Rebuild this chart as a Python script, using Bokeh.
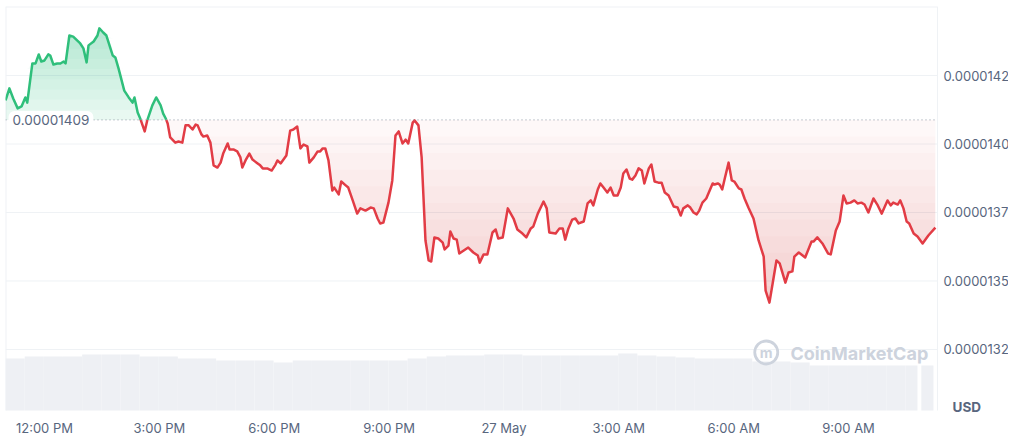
import numpy as np
from bokeh.plotting import figure
from bokeh.models import Range1d, FixedTicker, Label
from bokeh.core.properties import value
from bokeh.embed import file_html
from bokeh.resources import INLINE

# ---- data -------------------------------------------------------------
# time in minutes since 26 May 00:00, price in units of 1e-9 USD
times = [659,665,671,678,684,690,693,701,706,711,
         715,720,726,729,734,740,745,750,753,759,
         765,776,781,786,789,797,803,806,812,817,
         827,831,836,845,852,858,861,866,870,877,
         881,889,895,902,906,910,913,917,925,930,
         936,941,946,952,957,960,966,969,975,980,
         985,991,996,1000,1007,1010,1016,1022,1027,1030,
         1035,1041,1046,1054,1058,1062,1069,1076,1082,1085,
         1090,1099,1105,1110,1116,1121,1126,1132,1135,1142,
         1148,1152,1156,1160,1165,1171,1174,1181,1185,1192,
         1196,1203,1210,1215,1223,1231,1236,1242,1246,1251,
         1259,1265,1270,1275,1281,1286,1290,1297,1300,1306,
         1311,1317,1322,1326,1331,1337,1344,1347,1353,1356,
         1361,1366,1370,1377,1384,1392,1399,1402,1408,1414,
         1422,1427,1431,1438,1446,1455,1461,1469,1475,1482,
         1486,1493,1502,1507,1511,1521,1527,1532,1536,1541,
         1547,1552,1557,1565,1571,1576,1580,1587,1591,1596,
         1602,1607,1612,1618,1623,1627,1632,1637,1641,1646,
         1651,1656,1660,1667,1671,1676,1682,1687,1692,1698,
         1706,1712,1717,1721,1728,1732,1737,1742,1746,1751,
         1757,1761,1767,1770,1775,1778,1782,1786,1792,1797,
         1801,1808,1812,1817,1823,1831,1839,1847,1850,1856,
         1861,1867,1872,1881,1886,1892,1895,1902,1912,1922,
         1925,1931,1939,1948,1952,1960,1966,1972,1977,1983,
         1989,1994,2000,2005,2011,2019,2025,2032,2041,2046,
         2050,2057,2061,2066,2071,2075,2082,2088,2096,2105,2116]

price_e9 = [14161,14205,14168,14132,14139,14172,14153,14296,14296,14329,
            14303,14307,14329,14325,14292,14296,14296,14303,14296,14398,
            14394,14369,14351,14300,14362,14376,14398,14424,14409,14398,
            14325,14318,14278,14197,14172,14153,14172,14117,14095,14048,
            14088,14143,14172,14143,14113,14095,14077,14026,14007,14011,
            14007,14070,14070,14055,14073,14070,14037,14029,14033,14007,
            13924,13916,13934,13967,14004,13982,13982,13975,13953,13916,
            13942,13967,13945,13931,13924,13913,13913,13905,13927,13942,
            13931,13960,14051,14055,14066,13986,14000,13993,13934,13953,
            13975,13975,13986,13986,13942,13832,13843,13818,13865,13851,
            13843,13796,13748,13767,13759,13770,13767,13730,13712,13715,
            13788,13869,14033,14048,14004,14018,14004,14080,14088,14070,
            13953,13650,13577,13573,13661,13657,13642,13617,13631,13683,
            13657,13653,13602,13613,13624,13606,13595,13569,13599,13599,
            13679,13690,13657,13661,13767,13730,13690,13675,13661,13694,
            13701,13748,13792,13767,13679,13675,13694,13694,13653,13694,
            13726,13730,13712,13719,13785,13796,13778,13836,13858,13843,
            13825,13843,13814,13814,13843,13894,13909,13876,13872,13887,
            13913,13905,13858,13913,13927,13865,13861,13861,13825,13814,
            13774,13770,13741,13767,13778,13770,13752,13745,13759,13788,
            13803,13825,13858,13854,13858,13854,13836,13876,13934,13869,
            13865,13840,13836,13803,13770,13730,13650,13591,13467,13423,
            13493,13577,13566,13496,13533,13537,13591,13606,13588,13646,
            13646,13661,13639,13602,13599,13686,13719,13814,13785,13788,
            13796,13785,13788,13781,13752,13803,13781,13748,13796,13778,
            13788,13781,13796,13767,13719,13712,13675,13664,13639,13668,13697]

open_price = 1.409e-5

# volume bars: start / end time (minutes) and volume
vol_start = [659,689,719,749,779,809,839,869,899,929,
             959,989,1019,1049,1079,1109,1139,1169,1199,1229,
             1259,1289,1319,1349,1379,1409,1439,1469,1499,1529,
             1559,1589,1619,1649,1679,1709,1739,1769,1799,1829,
             1859,1889,1919,1949,1979,2009,2039,2069,2094]
vol_end = [689,719,749,779,809,839,869,899,929,959,
           989,1019,1049,1079,1109,1139,1169,1199,1229,1259,
           1289,1319,1349,1379,1409,1439,1469,1499,1529,1559,
           1589,1619,1649,1679,1709,1739,1769,1799,1829,1859,
           1889,1919,1949,1979,2009,2039,2069,2088,2113]
volume = [5.2,5.4,5.4,5.4,5.6,5.6,5.6,5.4,5.4,5.2,
          5.2,5.0,5.0,5.0,4.8,5.0,5.0,5.0,5.0,5.0,
          5.0,5.2,5.4,5.5,5.5,5.6,5.6,5.5,5.5,5.5,
          5.5,5.5,5.7,5.5,5.4,5.3,5.2,5.2,5.2,4.9,
          4.9,4.8,4.5,4.5,4.5,4.5,4.5,4.5,4.5]

x_tick_vals = [720, 900, 1080, 1260, 1440, 1620, 1800, 1980]
x_tick_text = ["12:00 PM", "3:00 PM", "6:00 PM", "9:00 PM", "27 May",
               "3:00 AM", "6:00 AM", "9:00 AM"]
y_tick_vals = [1.4252e-5, 1.4002e-5, 1.3752e-5, 1.3502e-5, 1.3252e-5]
y_tick_text = ["0.0000142", "0.0000140", "0.0000137", "0.0000135", "0.0000132"]

# ---- layout constants ------------------------------------------------
X_START = 658.9      # left edge of the plotting area (minutes)
PLOT_END = 2119.3    # right edge of the plotting area (minutes)
X_END = 2230.6       # right edge of the canvas, price-scale gutter included
Y_MIN, Y_MAX = 1.301465e-5, 1.45039e-5   # canvas frame (a little below the chart)
CHART_BOTTOM = 1.302925e-5               # bottom of the chart area

GREEN = "#2fbf7b"
RED = "#e23c45"
LABEL = "#58667e"
GRID = "#eff2f5"
FONT = "Inter"

t = np.array(times, dtype=float)
pr = np.array(price_e9, dtype=float) * 1e-9

# insert the baseline crossings so that the colour changes exactly there
xs, ys = [t[0]], [pr[0]]
for i in range(1, len(t)):
    a, b = pr[i - 1] - open_price, pr[i] - open_price
    if a * b < 0:
        f = a / (a - b)
        xs.append(t[i - 1] + f * (t[i] - t[i - 1]))
        ys.append(open_price)
    xs.append(t[i])
    ys.append(pr[i])
xs = np.array(xs)
ys = np.array(ys)

p = figure(frame_width=1003, frame_height=408,
           x_range=Range1d(X_START, X_END),
           y_range=Range1d(Y_MIN, Y_MAX),
           y_axis_location=None,
           output_backend="svg", toolbar_location=None,
           min_border_left=5, min_border_top=6,
           min_border_right=0, min_border_bottom=24,
           background_fill_color="white", border_fill_color="white",
           outline_line_color=None)

# horizontal grid lines and plot borders (only across the plotting area)
n_t = len(y_tick_vals)
p.segment(x0=[X_START] * n_t, x1=[PLOT_END] * n_t, y0=y_tick_vals, y1=y_tick_vals,
          line_color=GRID, line_width=1)
p.segment(x0=[X_START], x1=[PLOT_END], y0=[Y_MAX], y1=[Y_MAX],
          line_color=GRID, line_width=2)
p.segment(x0=[PLOT_END, X_START], x1=[PLOT_END, X_START],
          y0=[CHART_BOTTOM, CHART_BOTTOM], y1=[Y_MAX, Y_MAX],
          line_color=GRID, line_width=[1, 2])

# volume (0 sits at the chart bottom, 10 px per unit)
p.extra_y_ranges = {"vol": Range1d(-0.4, 40.4)}
p.quad(left=vol_start, right=vol_end, bottom=0, top=volume, y_range_name="vol",
       fill_color="#eef0f4", line_color=None)

# green gradient (above open)
top = pr.max()
p.varea(x=xs, y1=np.full_like(ys, open_price), y2=np.maximum(ys, open_price),
        fill_color=GREEN, fill_alpha=0.11)
n_g = 8
for k in range(1, n_g + 1):
    lev = open_price + k * (top - open_price) / (n_g + 1)
    p.varea(x=xs, y1=np.full_like(ys, lev), y2=np.maximum(ys, lev),
            fill_color=GREEN, fill_alpha=0.03)

# red gradient (below open)
bot = pr.min()
p.varea(x=xs, y1=np.full_like(ys, open_price), y2=np.minimum(ys, open_price),
        fill_color=RED, fill_alpha=0.035)
n_r = 10
for k in range(1, n_r + 1):
    lev = open_price - k * (open_price - bot) / (n_r + 1)
    p.varea(x=xs, y1=np.full_like(ys, lev), y2=np.minimum(ys, lev),
            fill_color=RED, fill_alpha=0.02)

g_line = np.where(ys >= open_price, ys, np.nan)
r_line = np.where(ys <= open_price, ys, np.nan)
p.line(xs, g_line, line_color=GREEN, line_width=2.5, line_join="round")
p.line(xs, r_line, line_color=RED, line_width=2.5, line_join="round")

# dotted open-price line
p.segment(x0=[X_START], x1=[PLOT_END], y0=[open_price], y1=[open_price],
          line_color="#8c94a3", line_width=1, line_dash="1 3")

# price scale labels (right gutter)
p.text(x=[PLOT_END] * n_t, y=y_tick_vals, text=y_tick_text, x_offset=6,
       text_font=value(FONT), text_font_size="13px", text_color=LABEL,
       text_baseline="middle", text_align="left")

# time axis
p.xaxis.ticker = FixedTicker(ticks=x_tick_vals)
p.xaxis.major_label_overrides = dict(zip(x_tick_vals, x_tick_text))
p.xaxis.axis_line_color = None
p.xaxis.major_tick_line_color = None
p.xaxis.minor_tick_line_color = None
p.xaxis.major_tick_out = 0
p.xaxis.major_tick_in = 0
p.xaxis.major_label_text_font = FONT
p.xaxis.major_label_text_font_size = "13px"
p.xaxis.major_label_text_color = LABEL
p.xaxis.major_label_standoff = 5
p.grid.visible = False

# open price label
p.add_layout(Label(x=3, y=open_price, x_units="screen", text="0.00001409",
                   text_font=FONT, text_font_size="13.5px", text_color=LABEL,
                   text_baseline="middle", text_align="left",
                   background_fill_color="white", border_radius=6, padding=4))

# currency label
p.add_layout(Label(x=947, y=8, x_units="screen", y_units="screen", text="USD",
                   text_font=FONT, text_font_size="13.5px", text_font_style="bold",
                   text_color=LABEL, text_baseline="middle", text_align="left"))

# watermark
WM = "#cdd3dd"
p.scatter(x=[1851], y=[1.3241e-5], marker="circle", size=23, fill_color=None,
          line_color=WM, line_width=2.8)
p.add_layout(Label(x=1851, y=1.3241e-5, text="m", text_font=FONT,
                   text_font_size="14px", text_font_style="bold", text_color=WM,
                   text_align="center", text_baseline="middle"))
p.add_layout(Label(x=785, y=61, x_units="screen", y_units="screen",
                   text="CoinMarketCap", text_font=FONT, text_font_size="18px",
                   text_font_style="bold", text_color=WM,
                   text_baseline="middle", text_align="left"))

open("out.html", "w").write(file_html(p, INLINE))
